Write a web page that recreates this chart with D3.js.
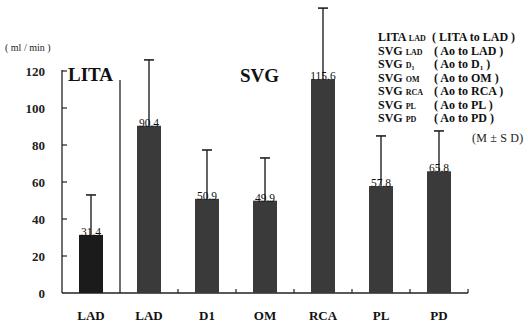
<!DOCTYPE html>
<html>
<head>
<meta charset="utf-8">
<script src="https://cdn.jsdelivr.net/npm/d3@7"></script>
<style>
  body { margin: 0; background: #fff; }
</style>
</head>
<body>
<div id="chart"></div>
<script>
// chart data
const categories = ["LAD", "LAD", "D1", "OM", "RCA", "PL", "PD"];
const groups = ["LITA", "SVG", "SVG", "SVG", "SVG", "SVG", "SVG"];
const means = [31.4, 90.4, 50.9, 49.9, 115.6, 57.8, 65.8];
const sds = [21.6, 35.6, 26.4, 23.1, 38.4, 27.1, 21.8];
const yTicks = [0, 20, 40, 60, 80, 100, 120];

// legend rows: graft name, subscript, description
const legendNames = ["LITA", "SVG", "SVG", "SVG", "SVG", "SVG", "SVG"];
const legendSubs = ["LAD", "LAD", "D", "OM", "RCA", "PL", "PD"];
const legendDescs = ["( LITA to LAD )", "( Ao to LAD )", "( Ao to D", "( Ao to OM )", "( Ao to RCA )", "( Ao to PL )", "( Ao to PD )"];

const W = 528, H = 322;
const svg = d3.select("#chart").append("svg").attr("width", W).attr("height", H)
  .attr("font-family", "'Liberation Serif', 'Times New Roman', 'DejaVu Serif', serif");

const x = d3.scaleBand().domain(d3.range(categories.length)).range([62, 468]).padding(0);
const y = d3.scaleLinear().domain([0, 120]).range([293, 71]);
const barW = 24;

// axes
svg.append("line").attr("x1", 62).attr("x2", 62).attr("y1", y(0)).attr("y2", y(120) - 1)
  .attr("stroke", "#222").attr("stroke-width", 1.3);
svg.append("line").attr("x1", 62).attr("x2", 468).attr("y1", y(0)).attr("y2", y(0))
  .attr("stroke", "#222").attr("stroke-width", 1.3);

svg.selectAll(".ytick").data(yTicks.filter(d => d > 0)).enter().append("line")
  .attr("x1", 62).attr("x2", 67).attr("y1", d => y(d)).attr("y2", d => y(d))
  .attr("stroke", "#222").attr("stroke-width", 1.2);

svg.selectAll(".ylab").data(yTicks).enter().append("text")
  .attr("x", 45).attr("y", d => y(d) + 4.5)
  .attr("text-anchor", "end").attr("font-size", 13).attr("font-weight", "bold")
  .attr("fill", "#222").text(d => d);

// x ticks between bands
svg.selectAll(".xtick").data(d3.range(2, categories.length + 1)).enter().append("line")
  .attr("x1", i => 62 + i * x.bandwidth()).attr("x2", i => 62 + i * x.bandwidth())
  .attr("y1", y(0)).attr("y2", y(0) - 4)
  .attr("stroke", "#222").attr("stroke-width", 1.2);

// separator between LITA and SVG
svg.append("line").attr("x1", x(1)).attr("x2", x(1)).attr("y1", y(0)).attr("y2", 80)
  .attr("stroke", "#222").attr("stroke-width", 1.3);

svg.append("text").attr("x", 5).attr("y", 51).attr("font-size", 10).attr("fill", "#222")
  .text("( ml / min )");

svg.append("text").attr("x", 68).attr("y", 81).attr("font-size", 19).attr("font-weight", "bold")
  .attr("fill", "#111").text("LITA");
svg.append("text").attr("x", 240).attr("y", 82).attr("font-size", 19).attr("font-weight", "bold")
  .attr("fill", "#111").text("SVG");

// bars
svg.selectAll(".bar").data(means).enter().append("rect")
  .attr("x", (d, i) => x(i) + (x.bandwidth() - barW) / 2)
  .attr("y", d => y(d))
  .attr("width", barW)
  .attr("height", d => y(0) - y(d))
  .attr("fill", (d, i) => groups[i] === "LITA" ? "#1b1b1b" : "#3a3a3a");

// error bars
const cx = i => x(i) + x.bandwidth() / 2;
svg.selectAll(".err").data(means).enter().append("line")
  .attr("x1", (d, i) => cx(i)).attr("x2", (d, i) => cx(i))
  .attr("y1", d => y(d)).attr("y2", (d, i) => y(d + sds[i]))
  .attr("stroke", "#222").attr("stroke-width", 1.4);
svg.selectAll(".cap").data(means).enter().append("line")
  .attr("x1", (d, i) => cx(i) - 5).attr("x2", (d, i) => cx(i) + 5)
  .attr("y1", (d, i) => y(d + sds[i])).attr("y2", (d, i) => y(d + sds[i]))
  .attr("stroke", "#222").attr("stroke-width", 1.6);

// value labels
svg.selectAll(".val").data(means).enter().append("text")
  .attr("x", (d, i) => cx(i)).attr("y", d => y(d) + 1)
  .attr("text-anchor", "middle").attr("font-size", 11.5).attr("fill", "#111")
  .text(d => d.toFixed(1));

// category labels
svg.selectAll(".cat").data(categories).enter().append("text")
  .attr("x", (d, i) => cx(i)).attr("y", 320)
  .attr("text-anchor", "middle").attr("font-size", 13).attr("font-weight", "bold")
  .attr("fill", "#111").text(d => d);

// legend
const lg = svg.append("g").attr("font-weight", "bold").attr("fill", "#111");
legendNames.forEach((n, i) => {
  const ly = 41 + i * 13.5;
  const t = lg.append("text").attr("x", 378).attr("y", ly).attr("font-size", 12);
  t.append("tspan").text(n + " ");
  t.append("tspan").attr("font-size", 8).text(legendSubs[i]);
  if (legendSubs[i] === "D") {
    t.append("tspan").attr("font-size", 6).attr("dy", 1.5).text("1");
  }
  const dt = lg.append("text").attr("x", i === 0 ? 432 : 434).attr("y", ly).attr("font-size", 12);
  if (legendDescs[i] === "( Ao to D") {
    dt.append("tspan").text("( Ao to D");
    dt.append("tspan").attr("font-size", 7).attr("dy", 2).text("1");
    dt.append("tspan").attr("dy", -2).text(" )");
  } else {
    dt.text(legendDescs[i]);
  }
});

svg.append("text").attr("x", 472).attr("y", 142).attr("font-size", 12).attr("fill", "#222")
  .attr("letter-spacing", 0.2).text("(M ± S D)");
</script>
</body>
</html>
